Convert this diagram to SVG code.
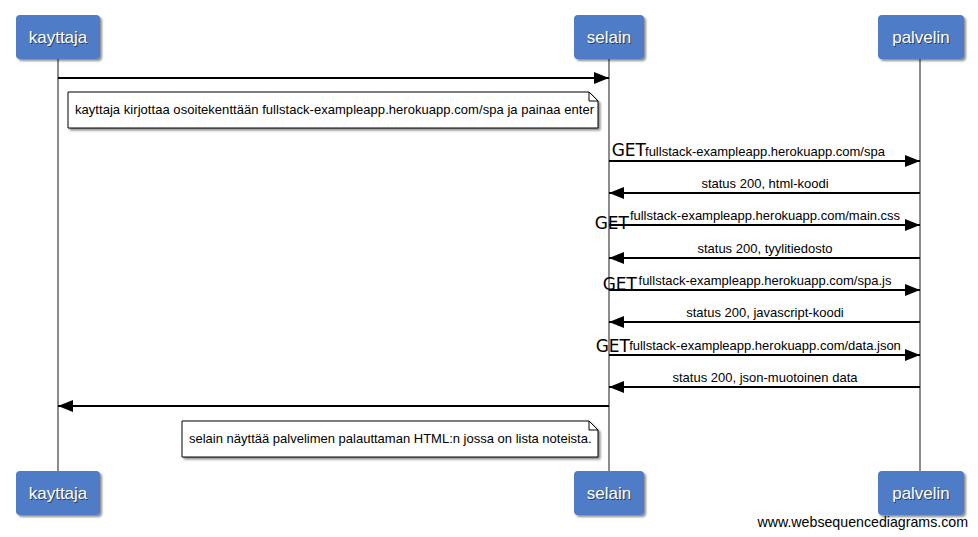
<svg xmlns="http://www.w3.org/2000/svg" width="978" height="537" viewBox="0 0 978 537">
<defs>
<filter id="sh" x="-10%" y="-10%" width="130%" height="140%">
<feDropShadow dx="2" dy="2" stdDeviation="1.2" flood-color="#000" flood-opacity="0.45"/>
</filter>
<marker id="ah" viewBox="0 0 15 12" refX="15" refY="6" markerWidth="15" markerHeight="12" markerUnits="userSpaceOnUse" orient="auto">
<path d="M0,0 L15,6 L0,12 Z" fill="#000"/>
</marker>
</defs>
<style>
.box{fill:#4f7bc6;filter:url(#sh)}
.pl{font-family:"Liberation Sans",Arial,sans-serif;font-size:17px;fill:#fff;text-anchor:middle}
.plsh{font-family:"Liberation Sans",Arial,sans-serif;font-size:17px;fill:#1a2a4a;text-anchor:middle;opacity:0.8}
.life{stroke:#8c8c8c;stroke-width:2;fill:none}
.msg{stroke:#000;stroke-width:2;fill:none;marker-end:url(#ah)}
.t{font-family:"Liberation Sans",Arial,sans-serif;font-size:13px;fill:#000}
.mid{text-anchor:middle}
.get{font-family:"DejaVu Sans",sans-serif;font-size:17px;fill:#000;text-anchor:end}
.note{fill:#fff;stroke:#000;stroke-width:1;filter:url(#sh)}
.fold{fill:none;stroke:#000;stroke-width:1}
.foot{font-family:"Liberation Sans",Arial,sans-serif;font-size:14.2px;fill:#000;text-anchor:end}
</style>
<rect width="978" height="537" fill="#fff"/>
<g id="lifelines">
<line class="life" x1="58" y1="59" x2="58" y2="471"/>
<line class="life" x1="609" y1="59" x2="609" y2="471"/>
<line class="life" x1="920" y1="59" x2="920" y2="471"/>
</g>
<g id="kayttaja">
<rect class="box" x="16" y="15" width="84" height="44" rx="4"/>
<text class="plsh" x="59" y="44">kayttaja</text>
<text class="pl" x="58" y="43">kayttaja</text>
<rect class="box" x="16" y="471" width="84" height="44" rx="4"/>
<text class="plsh" x="59" y="500">kayttaja</text>
<text class="pl" x="58" y="499">kayttaja</text>
</g>
<g id="selain">
<rect class="box" x="574" y="15" width="70" height="44" rx="4"/>
<text class="plsh" x="610" y="44">selain</text>
<text class="pl" x="609" y="43">selain</text>
<rect class="box" x="574" y="471" width="70" height="44" rx="4"/>
<text class="plsh" x="610" y="500">selain</text>
<text class="pl" x="609" y="499">selain</text>
</g>
<g id="palvelin">
<rect class="box" x="878" y="15" width="86" height="44" rx="4"/>
<text class="plsh" x="922" y="44">palvelin</text>
<text class="pl" x="921" y="43">palvelin</text>
<rect class="box" x="878" y="471" width="86" height="44" rx="4"/>
<text class="plsh" x="922" y="500">palvelin</text>
<text class="pl" x="921" y="499">palvelin</text>
</g>
<g id="connectors">
<line class="msg" x1="58" y1="78" x2="609" y2="78"/>
<line class="msg" x1="609" y1="161" x2="920" y2="161"/>
<line class="msg" x1="920" y1="193" x2="609" y2="193"/>
<line class="msg" x1="609" y1="225" x2="920" y2="225"/>
<line class="msg" x1="920" y1="258" x2="609" y2="258"/>
<line class="msg" x1="609" y1="290" x2="920" y2="290"/>
<line class="msg" x1="920" y1="322" x2="609" y2="322"/>
<line class="msg" x1="609" y1="355" x2="920" y2="355"/>
<line class="msg" x1="920" y1="387" x2="609" y2="387"/>
<line class="msg" x1="609" y1="406" x2="58" y2="406"/>
</g>
<g id="labels">
<text class="get" x="646" y="156">GET</text>
<text class="t mid" x="765" y="156">fullstack-exampleapp.herokuapp.com/spa</text>
<text class="t mid" x="765" y="188">status 200, html-koodi</text>
<text class="get" x="629" y="229">GET</text>
<text class="t mid" x="765" y="220">fullstack-exampleapp.herokuapp.com/main.css</text>
<text class="t mid" x="765" y="253">status 200, tyylitiedosto</text>
<text class="get" x="637" y="290">GET</text>
<text class="t mid" x="765" y="285">fullstack-exampleapp.herokuapp.com/spa.js</text>
<text class="t mid" x="765" y="317">status 200, javascript-koodi</text>
<text class="get" x="630" y="352">GET</text>
<text class="t mid" x="765" y="350">fullstack-exampleapp.herokuapp.com/data.json</text>
<text class="t mid" x="765" y="382">status 200, json-muotoinen data</text>
</g>
<g id="note1">
<path class="note" d="M68,92 H589 L598,101 V128 H68 Z"/>
<path class="fold" d="M589,92 V101 H598"/>
<text class="t" x="75" y="114" textLength="519">kayttaja kirjottaa osoitekenttään fullstack-exampleapp.herokuapp.com/spa ja painaa enter</text>
</g>
<g id="note2">
<path class="note" d="M182,421 H589 L598,430 V457 H182 Z"/>
<path class="fold" d="M589,421 V430 H598"/>
<text class="t" x="189" y="443">selain näyttää palvelimen palauttaman HTML:n jossa on lista noteista.</text>
</g>
<text class="foot" x="968" y="527">www.websequencediagrams.com</text>
</svg>
